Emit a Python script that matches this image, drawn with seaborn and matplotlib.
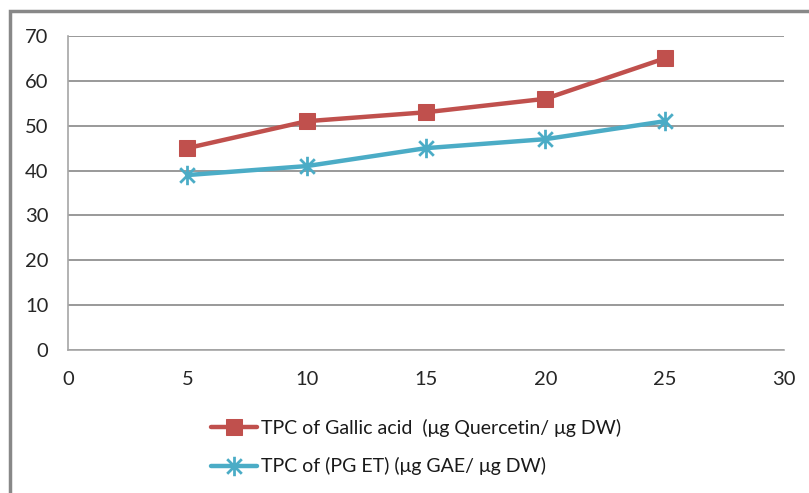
import matplotlib
matplotlib.use("Agg")
import matplotlib.pyplot as plt
from matplotlib.path import Path
from matplotlib.patches import Rectangle
import seaborn as sns
import pandas as pd

x_values = [5, 10, 15, 20, 25]
gallic = [45, 51, 53, 56, 65]
pg_et = [39, 41, 45, 47, 51]
label_gallic = "TPC of Gallic acid  (\u03bcg Quercetin/ \u03bcg DW)"
label_pg = "TPC of (PG ET) (\u03bcg GAE/ \u03bcg DW)"
x_ticks = [0, 5, 10, 15, 20, 25, 30]
y_ticks = [0, 10, 20, 30, 40, 50, 60, 70]

sns.set_theme(style="white")
plt.rcParams['font.family'] = ['Lato', 'DejaVu Sans']

RED = "#C0504D"
CYAN = "#4BACC6"
GREY = "#878787"

# asterisk marker: vertical line + X
star = Path([(0, -1), (0, 1), (-0.75, -0.75), (0.75, 0.75), (-0.75, 0.75), (0.75, -0.75)],
            [Path.MOVETO, Path.LINETO, Path.MOVETO, Path.LINETO, Path.MOVETO, Path.LINETO])

df = pd.DataFrame({"x": x_values, "gallic": gallic, "pg": pg_et})

fig = plt.figure(figsize=(8.09, 4.93), dpi=100)
ax = fig.add_axes([68/809, 1-350/493, (784-68)/809, (350-36)/493])

sns.lineplot(data=df, x="x", y="gallic", ax=ax, color=RED, lw=3.2, marker="s",
             markersize=12, markeredgecolor=RED, label=label_gallic, zorder=3)
sns.lineplot(data=df, x="x", y="pg", ax=ax, color=CYAN, lw=3.2, marker=star,
             markersize=14, markeredgewidth=2.0, markeredgecolor=CYAN, label=label_pg, zorder=3)

ax.set_xlim(0, 30)
ax.set_ylim(0, 70)
ax.set_xticks(x_ticks)
ax.set_yticks(y_ticks)
ax.set_xlabel("")
ax.set_ylabel("")
ax.yaxis.grid(True, color=GREY, lw=1.2)
ax.xaxis.grid(False)
for s in ["top", "right"]:
    ax.spines[s].set_visible(False)
for s in ["left", "bottom"]:
    ax.spines[s].set_color("#A6A6A6")
    ax.spines[s].set_linewidth(1.2)
ax.tick_params(axis="both", which="major", direction="out", length=7, width=1.2,
               color="#A6A6A6", labelsize=14.5, labelcolor="#262626")
ax.tick_params(axis="y", pad=7)
ax.tick_params(axis="x", pad=8)
ax.set_axisbelow(True)

leg = ax.legend(loc="upper left", bbox_to_anchor=(203/809, 1-411/493),
                bbox_transform=fig.transFigure, frameon=False, fontsize=14.0,
                handlelength=2.4, handletextpad=0.2, labelspacing=1.05,
                borderaxespad=0)
for t in leg.get_texts():
    t.set_color("#1a1a1a")

fig.patches.append(Rectangle((10/809, -0.1), 1.2, 1 - 11/493 + 0.1, transform=fig.transFigure,
                             fill=False, edgecolor="#888888", lw=2.5, zorder=0))

fig.savefig("out.png", dpi=100)
